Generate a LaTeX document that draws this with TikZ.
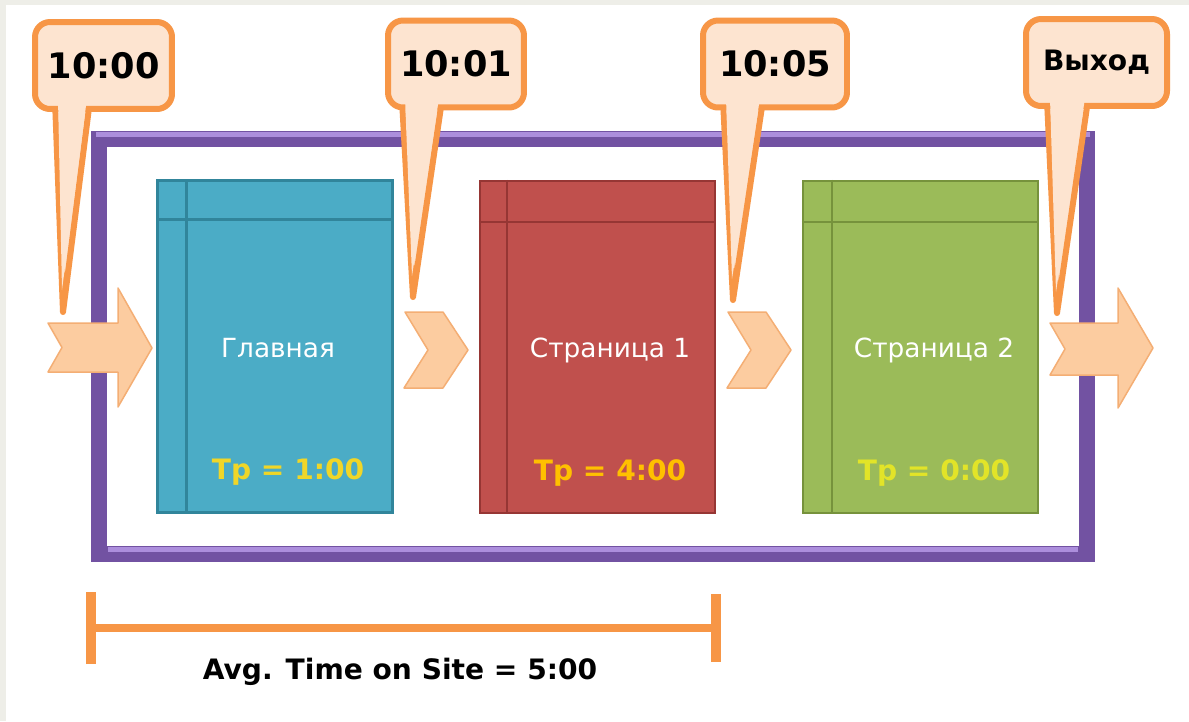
\documentclass[tikz,border=0pt]{standalone}
\usepackage{fontspec}
\setmainfont{DejaVu Sans}
\usepackage{xcolor}
\usepackage{tikz}
\usetikzlibrary{arrows.meta}
\definecolor{calloutorange}{RGB}{247,150,70}
\definecolor{calloutfill}{RGB}{253,228,208}
\definecolor{framepurple}{RGB}{114,82,162}
\definecolor{framelight}{RGB}{172,142,220}
\definecolor{arrowfill}{RGB}{252,204,160}
\definecolor{arrowline}{RGB}{244,174,116}
\definecolor{homeblue}{RGB}{75,172,198}
\definecolor{homeline}{RGB}{49,133,155}
\definecolor{pagered}{RGB}{192,80,77}
\definecolor{pageredline}{RGB}{150,54,52}
\definecolor{pagegreen}{RGB}{155,187,89}
\definecolor{pagegreenline}{RGB}{118,146,60}
\definecolor{tpyellow}{RGB}{240,214,40}
\definecolor{tporange}{RGB}{255,192,0}
\definecolor{tplime}{RGB}{226,228,40}
\definecolor{edgegray}{RGB}{238,238,232}

\begin{document}
\begin{tikzpicture}[x=0.02cm, y=-0.02cm]
    % Define styles
    \tikzstyle{callout} = [rectangle, rounded corners=0.3cm, draw=calloutorange, fill=calloutfill, line width=0.12cm, minimum height=1.74cm, font=\fontsize{20}{24}\selectfont\bfseries]
    \tikzstyle{tail} = [draw=calloutorange, fill=calloutfill, line width=0.12cm, line join=round]
    \tikzstyle{page} = [rectangle, minimum width=4.7cm, minimum height=6.64cm, line width=0.05cm]
    \tikzstyle{title} = [text=white, font=\fontsize{15}{18}\selectfont]
    \tikzstyle{tp} = [font=\fontsize{16}{19}\selectfont\bfseries]
    \tikzstyle{block} = [fill=arrowfill, draw=arrowline, line width=0.03cm, line join=round]
    \tikzstyle{span} = [draw=calloutorange, line width=0.16cm, {Bar[width=1.44cm, line width=0.2cm]}-{Bar[width=1.36cm, line width=0.2cm]}]

    % Background
    \useasboundingbox (0,0) rectangle (1189,721);
    \fill[edgegray] (0,0) rectangle (1189,721);
    \fill[white] (6,5) rectangle (1189,721);

    % Site frame
    \draw[framepurple, line width=0.33cm] (99,139) rectangle (1087,554);
    \draw[framelight, line width=0.1cm] (96,134) -- (1090,134);
    \draw[framelight, line width=0.1cm] (108,549) -- (1078,549);

    % Pages
    \node [page, fill=homeblue, draw=homeline] (home) at (275,346.5) {};
    \node [page, fill=pagered, draw=pageredline] (page1) at (597.5,347) {};
    \node [page, fill=pagegreen, draw=pagegreenline] (page2) at (920.5,347) {};
    \draw[homeline, line width=0.05cm] ([xshift=0.6cm]home.north west) -- ([xshift=0.6cm]home.south west);
    \draw[homeline, line width=0.05cm] ([yshift=-0.8cm]home.north west) -- ([yshift=-0.8cm]home.north east);
    \draw[pageredline, line width=0.05cm] ([xshift=0.56cm]page1.north west) -- ([xshift=0.56cm]page1.south west);
    \draw[pageredline, line width=0.05cm] ([yshift=-0.84cm]page1.north west) -- ([yshift=-0.84cm]page1.north east);
    \draw[pagegreenline, line width=0.05cm] ([xshift=0.6cm]page2.north west) -- ([xshift=0.6cm]page2.south west);
    \draw[pagegreenline, line width=0.05cm] ([yshift=-0.84cm]page2.north west) -- ([yshift=-0.84cm]page2.north east);

    \node [title] (hometitle) at (278,348) {Главная};
    \node [title] (page1title) at (610,350) {Страница 1};
    \node [title] (page2title) at (934,350) {Страница 2};
    \node [tp, text=tpyellow] (hometp) at (288,472) {Tp = 1:00};
    \node [tp, text=tporange] (page1tp) at (610,473) {Tp = 4:00};
    \node [tp, text=tplime] (page2tp) at (934,473) {Tp = 0:00};

    % Transition arrows
    \draw[block] (48,323) -- (118,323) -- (118,288) -- (152,348) -- (118,407) -- (118,372) -- (48,372) -- (62,347.5) -- cycle;
    \draw[block] (405,312) -- (443,312) -- (468,350) -- (443,388) -- (404,388) -- (428,350) -- cycle;
    \draw[block] (728,312) -- (766,312) -- (791,350) -- (766,388) -- (727,388) -- (751,350) -- cycle;
    \draw[block] (1050,323) -- (1118,323) -- (1118,288) -- (1153,348) -- (1118,408) -- (1118,375) -- (1050,375) -- (1065,349) -- cycle;

    % Time callouts
    \coordinate (tip1) at (63,312);
    \coordinate (tip2) at (413,297);
    \coordinate (tip3) at (733,300);
    \coordinate (tip4) at (1057,313);
    \draw[tail] (55,100) -- (tip1) -- (90,100);
    \draw[tail] (402,100) -- (tip2) -- (442,100);
    \draw[tail] (723,100) -- (tip3) -- (763,100);
    \draw[tail] (1047,100) -- (tip4) -- (1088,100);
    \node [callout, minimum width=2.74cm] (t1000) at (103.5,65.5) {10:00};
    \node [callout, minimum width=2.72cm] (t1001) at (456,64) {10:01};
    \node [callout, minimum width=2.88cm] (t1005) at (775,64) {10:05};
    \node [callout, minimum width=2.82cm, font=\fontsize{16}{19}\selectfont\bfseries] (exit) at (1096.5,62.5) {Выход};
    \fill[calloutfill] (58,98) -- (62,290) -- (87,98) -- cycle;
    \fill[calloutfill] (405,98) -- (412,276) -- (439,98) -- cycle;
    \fill[calloutfill] (726,98) -- (732,279) -- (760,98) -- cycle;
    \fill[calloutfill] (1050,98) -- (1056,292) -- (1085,98) -- cycle;

    % Average time on site
    \coordinate (spanstart) at (86,628);
    \coordinate (spanend) at (721,628);
    \draw[span] (spanstart) -- (spanend);
    \node [font=\fontsize{16}{20}\selectfont\bfseries] (avg) at (400,672) {Avg. Time on Site = 5:00};
\end{tikzpicture}
\end{document}
